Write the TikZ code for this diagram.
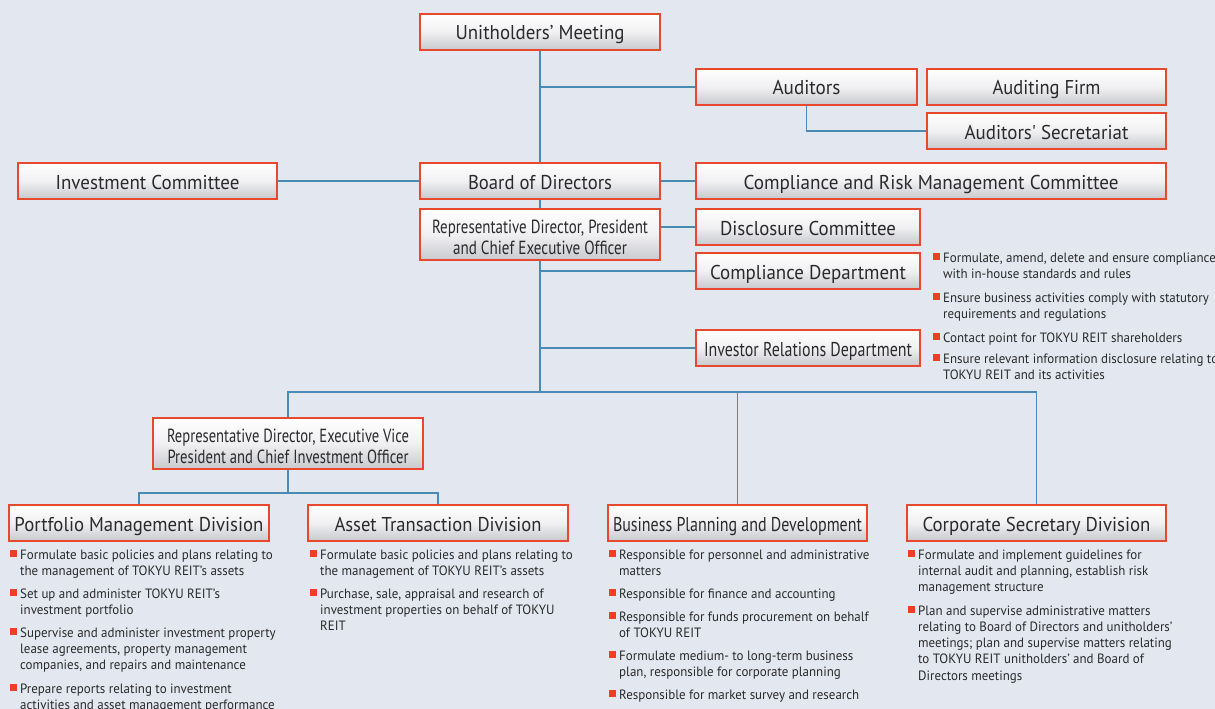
\documentclass[tikz,border=0pt]{standalone}
\usepackage{fontspec}
\usepackage{graphicx}
\setmainfont{PT Sans}
\newfontfamily\bulfont[FakeStretch=0.96]{PT Sans}
\usetikzlibrary{backgrounds}
\definecolor{bg}{HTML}{E3E7EF}
\definecolor{conn}{HTML}{4A8AB4}
\definecolor{bord}{HTML}{E8492E}
\definecolor{txt}{HTML}{2A2A2C}
\definecolor{sq}{HTML}{EE3F24}
\definecolor{boxbot}{HTML}{C8C9CE}
\definecolor{boxmid}{HTML}{F0F0F2}
\newcommand{\fw}[2]{\resizebox{#1pt}{\height}{#2}}
\tikzset{
  orgbox/.style={draw=bord, line width=1.1pt, top color=white, bottom color=boxbot, middle color=boxmid,
    inner sep=0pt, text=txt, align=center, font=\fontsize{20}{22}\selectfont},
  oneline/.style={text height=16pt, text depth=0pt},
  twoline/.style={font=\fontsize{19}{21}\selectfont},
  connector/.style={draw=conn, line width=1.4pt},
  bul/.style={inner sep=0pt, text=txt, font=\bulfont\fontsize{13.5}{16.3}\selectfont},
}
\newcommand{\bitem}[4]{%
  \fill[sq] (#2-10,#3-9.5) rectangle (#2-3,#3-2.5);
  \node[bul, anchor=base west] (#1) at (#2,#3) {\parbox[t]{330pt}{\raggedright #4}};
}
\begin{document}
\begin{tikzpicture}[x=1pt,y=-1pt]
\useasboundingbox (0,0) rectangle (1215,709);
\begin{scope}[on background layer]
  \fill[bg] (0,0) rectangle (1215,709);
\end{scope}

% boxes
\node[orgbox, oneline, minimum width=240, minimum height=36] (um) at (540,32) {\fw{169}{Unitholders’ Meeting}};
\node[orgbox, oneline, minimum width=221, minimum height=36] (aud) at (806.5,87) {\fw{68}{Auditors}};
\node[orgbox, oneline, minimum width=239, minimum height=36] (firm) at (1046.5,87) {\fw{108}{Auditing Firm}};
\node[orgbox, oneline, minimum width=239, minimum height=36] (sec) at (1046.5,131) {\fw{164}{Auditors\textquotesingle\ Secretariat}};
\node[orgbox, oneline, minimum width=259, minimum height=36] (inv) at (147.5,181) {\fw{184}{Investment Committee}};
\node[orgbox, oneline, minimum width=240, minimum height=36] (bod) at (540,181) {\fw{144}{Board of Directors}};
\node[orgbox, oneline, minimum width=470, minimum height=36] (crm) at (931,181) {\fw{375}{Compliance and Risk Management Committee}};
\node[orgbox, twoline, minimum width=240, minimum height=51] (ceo) at (540,234.5) {\rule{0pt}{18.5pt}\fw{216}{Representative Director, President}\\\fw{174}{and Chief Executive Officer}};
\node[orgbox, oneline, minimum width=224, minimum height=36] (disc) at (808,227) {\fw{176}{Disclosure Committee}};
\node[orgbox, oneline, minimum width=224, minimum height=36] (cdep) at (808,271) {\fw{196}{Compliance Department}};
\node[orgbox, oneline, minimum width=224, minimum height=36] (ir) at (808,348) {\fw{208}{Investor Relations Department}};
\node[orgbox, twoline, minimum width=270, minimum height=51] (evp) at (288,443.5) {\rule{0pt}{18.5pt}\fw{242}{Representative Director, Executive Vice}\\\fw{241}{President and Chief Investment Officer}};
\node[orgbox, oneline, minimum width=260, minimum height=36] (pmd) at (139,523) {\fw{249}{Portfolio Management Division}};
\node[orgbox, oneline, minimum width=260, minimum height=36] (atd) at (438,523) {\fw{207}{Asset Transaction Division}};
\node[orgbox, oneline, minimum width=259, minimum height=36] (bpd) at (737.5,523) {\fw{249}{Business Planning and Development}};
\node[orgbox, oneline, minimum width=259, minimum height=36] (csd) at (1036.5,523) {\fw{228}{Corporate Secretary Division}};

% connectors
\coordinate (tb) at (540,392);
\coordinate (sb) at (288,493);
\begin{scope}[on background layer]
  \draw[connector] (um.south) -- (tb);
  \draw[connector] (um.south |- aud.west) -- (aud.west);
  \draw[connector] (aud.south) -- (aud.south |- sec.west) -- (sec.west);
  \draw[connector] (inv.east) -- (bod.west);
  \draw[connector] (bod.east) -- (crm.west);
  \draw[connector] (ceo.east |- disc.west) -- (disc.west);
  \draw[connector] (um.south |- cdep.west) -- (cdep.west);
  \draw[connector] (um.south |- ir.west) -- (ir.west);
  \draw[connector] (evp.north) -- (evp.north |- tb) -- (csd.north |- tb) -- (csd.north);
  \draw[connector] (bpd.north |- tb) -- (bpd.north);
  \draw[connector] (evp.south) -- (sb);
  \draw[connector] (pmd.north) -- (pmd.north |- sb) -- (atd.north |- sb) -- (atd.north);
\end{scope}

% right bullets
\bitem{r1}{943}{262}{Formulate, amend, delete and ensure compliance\\with in-house standards and rules}
\bitem{r2}{943}{302}{Ensure business activities comply with statutory\\requirements and regulations}
\bitem{r3}{943}{342}{Contact point for TOKYU REIT shareholders}
\bitem{r4}{943}{363}{Ensure relevant information disclosure relating to\\TOKYU REIT and its activities}

% portfolio
\bitem{p1}{20}{559}{Formulate basic policies and plans relating to\\the management of TOKYU REIT’s assets}
\bitem{p2}{20}{598}{Set up and administer TOKYU REIT’s\\investment portfolio}
\bitem{p3}{20}{637}{Supervise and administer investment property\\lease agreements, property management\\companies, and repairs and maintenance}
\bitem{p4}{20}{693}{Prepare reports relating to investment\\activities and asset management performance}

% asset
\bitem{a1}{320}{559}{Formulate basic policies and plans relating to\\the management of TOKYU REIT’s assets}
\bitem{a2}{320}{598}{Purchase, sale, appraisal and research of\\investment properties on behalf of TOKYU\\REIT}

% business planning
\bitem{b1}{619}{559}{Responsible for personnel and administrative\\matters}
\bitem{b2}{619}{598}{Responsible for finance and accounting}
\bitem{b3}{619}{621}{Responsible for funds procurement on behalf\\of TOKYU REIT}
\bitem{b4}{619}{660}{Formulate medium- to long-term business\\plan, responsible for corporate planning}
\bitem{b5}{619}{699}{Responsible for market survey and research}

% corporate secretary
\bitem{c1}{918}{559}{Formulate and implement guidelines for\\internal audit and planning, establish risk\\management structure}
\bitem{c2}{918}{615}{Plan and supervise administrative matters\\relating to Board of Directors and unitholders’\\meetings; plan and supervise matters relating\\to TOKYU REIT unitholders’ and Board of\\Directors meetings}
\end{tikzpicture}
\end{document}
